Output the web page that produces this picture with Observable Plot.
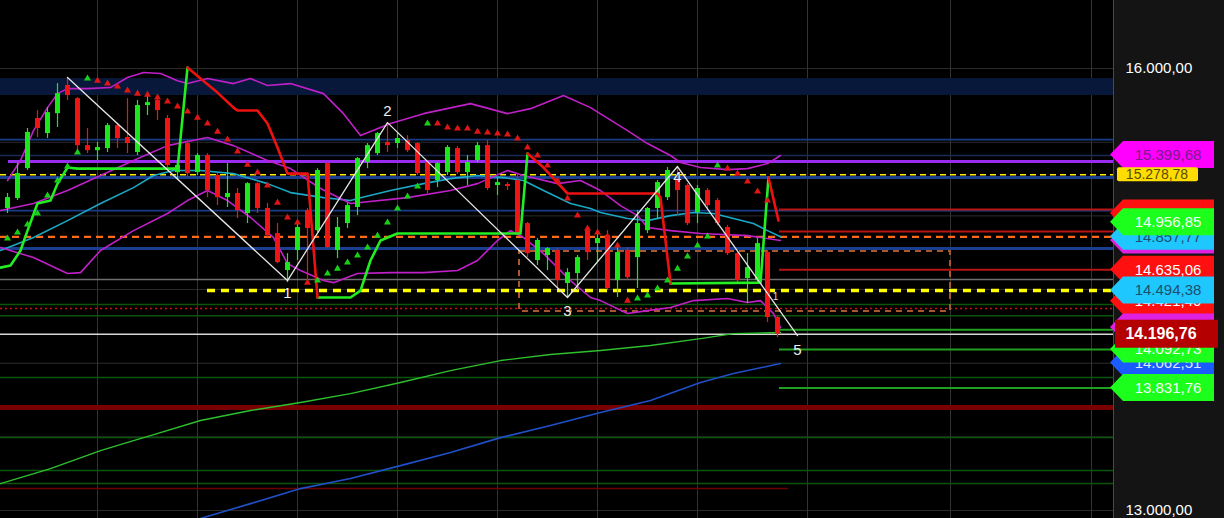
<!DOCTYPE html>
<html><head><meta charset="utf-8">
<script src="https://cdn.jsdelivr.net/npm/d3@7"></script>
<script src="https://cdn.jsdelivr.net/npm/@observablehq/plot@0.6"></script>
<style>html,body{margin:0;padding:0;background:#000;overflow:hidden}</style>
</head><body><div id="chart"></div>
<script>
// ---------- DATA ----------
const opens  = [15050,15118,15321,15661,15559,15694,15885,15796,15477,15443,15457,15613,15532,15430,15749,15783,15661,15294,15491,15294,15410,15274,15124,15152,15016,15219,15050,14880,14629,14765,15036,14900,15355,14765,14948,15057,15362,15423,15498,15491,15511,15491,15362,15240,15294,15457,15294,15376,15477,15206,15213,15240,14948,14697,14731,14765,14541,14609,14900,14812,14866,14561,14765,14717,14900,15050,15124,15240,15206,15023,15172,15104,14921,14744,14575,14561,14751,14310];
const highs  = [15152,15355,15593,15715,15735,15898,15939,15803,15593,15498,15627,15627,15796,15783,15830,15803,15681,15376,15511,15423,15423,15287,15355,15186,15226,15226,15084,14948,14744,14968,15050,15321,15362,14989,15084,15396,15491,15566,15633,15559,15545,15498,15376,15362,15477,15471,15410,15498,15511,15260,15226,15287,14955,14846,14785,14778,14642,14731,14921,14900,14900,14812,14785,15036,15057,15240,15328,15335,15219,15206,15186,15118,14934,14751,14744,14846,14765,14323];
const lows   = [15016,15104,15308,15532,15525,15600,15783,15423,15423,15376,15430,15457,15423,15410,15681,15647,15328,15240,15260,15274,15124,15070,15057,14982,14948,15016,14853,14676,14547,14697,14561,14887,14778,14710,14914,15002,15321,15410,15430,15457,15430,15274,15152,15192,15274,15281,15206,15362,15172,15138,15172,14866,14717,14663,14629,14514,14446,14493,14697,14683,14493,14446,14561,14507,14880,14982,15104,15002,14934,14948,15050,14934,14731,14547,14405,14547,14276,14174];
const closes = [15124,15287,15566,15593,15701,15830,15817,15477,15443,15464,15613,15525,15491,15749,15769,15715,15342,15342,15287,15410,15172,15124,15152,15036,15219,15050,14866,14683,14683,14921,14914,15308,14785,14921,15070,15389,15477,15559,15477,15525,15443,15287,15172,15355,15464,15294,15362,15477,15186,15226,15199,14880,14744,14833,14778,14561,14615,14717,14751,14846,14507,14751,14581,14948,15050,15226,15308,15172,14948,15186,15070,14948,14744,14561,14649,14812,14310,14196.76];

// Bollinger bands [bar index, price]
const bbUpper = [[0,15240],[1.3,15376],[2.6,15579],[4,15735],[5,15830],[6,15864],[8,15864],[10.3,15871],[12,15939],[13.6,15973],[15.3,15966],[17,15918],[18,15898],[20,15932],[22.6,15898],[24.3,15932],[26,15885],[28.3,15898],[31.6,15830],[33.6,15694],[35.3,15545],[38.3,15627],[41.6,15694],[46.3,15762],[50,15694],[52.3,15728],[55.6,15817],[58.3,15735],[62,15579],[64,15491],[66.3,15410],[67.3,15362],[69.3,15328],[72,15314],[74,15321],[76,15355],[77.3,15410]];
const bbMiddle = [[-0.7,15036],[2.6,15084],[6,15172],[9.3,15274],[12.6,15376],[16,15477],[20,15532],[22.6,15477],[26,15376],[28.3,15321],[31.3,15186],[34.3,15084],[40,15124],[44.3,15172],[47,15219],[50,15308],[51.6,15274],[55,15219],[57.3,15240],[59.3,15172],[61.3,15070],[63,15002],[64,14921],[66.3,14900],[69.3,14880],[74,14866],[77.3,14833]];
const bbLower = [[-0.7,14785],[2.6,14717],[6,14609],[7.3,14615],[9.3,14765],[12.6,14900],[16,15016],[18,15104],[20,15172],[22,15104],[24.3,14989],[26.6,14853],[28,14676],[29.3,14629],[31.6,14561],[32.6,14547],[35,14609],[38.3,14615],[41.6,14615],[45,14629],[47,14697],[49,14833],[50.3,14900],[51.6,14853],[53.6,14744],[56.3,14561],[58.3,14446],[59.3,14425],[62,14337],[64,14357],[66.3,14378],[68.6,14425],[72,14439],[74,14412],[75.3,14425],[76.6,14337],[77.3,14242]];
const maCyan = [[-0.7,14765],[2.6,14853],[6,14968],[9.3,15084],[12.6,15192],[14.6,15274],[16.6,15308],[19.3,15308],[22.6,15287],[26,15219],[28.3,15158],[31.6,15124],[34.3,15104],[35,15118],[38.3,15172],[41.6,15219],[44.3,15253],[47,15274],[49.6,15260],[51.6,15240],[53.6,15172],[56.3,15084],[58.3,15050],[59.3,15023],[62,14982],[64,14968],[66.3,15002],[68.6,15023],[70.6,15016],[72.6,14982],[74.6,14948],[76,14900],[77.3,14857.77]];
const maLongGreen = [[-0.7,13183],[4.3,13285],[9.3,13407],[12.6,13475],[14.3,13509],[19.3,13611],[24.3,13679],[29.3,13733],[34.3,13794],[39.3,13869],[44.3,13950],[49.3,14018],[54.3,14059],[59.3,14086],[64.3,14120],[69.3,14167],[72.6,14201],[77.3,14208]];
const maLongBlue = [[19.3,12946],[24.3,13047],[29.3,13149],[34.3,13217],[39.3,13305],[44.3,13394],[49.3,13495],[54.3,13577],[59.3,13665],[64.3,13747],[69.3,13869],[72.6,13930],[77.3,13998]];

// trailing stop line segments
const stopUp = [
  [[-0.7,14649],[0.3,14663],[1.3,14765],[2,14900],[3,15084],[4.3,15104],[5,15219],[6,15328],[7,15321],[17,15321],[18,16007]],
  [[31,14446],[34.3,14446],[35.3,14493],[36.3,14697],[37.3,14833],[39,14880],[51.3,14880],[52,15423]],
  [[66.3,14541],[75.3,14547],[76.1,15260]]
];
const stopDown = [
  [[18,16007],[19.3,15932],[21,15837],[22.6,15735],[23,15715],[25,15715],[26,15627],[27,15464],[28,15287],[30,15287],[31,14446]],
  [[52,15423],[53.6,15328],[56,15152],[65,15152],[65.3,15124],[66.3,14541]],
  [[76.1,15260],[77.1,14968]]
];

// parabolic SAR markers
const sarUp = [[0,14846],[1,14887],[2,14941],[3,15016],[4,15138],[5,15240],[6,15335],[7,15430],[8,15932],[31,14561],[32,14609],[33,14642],[34,14683],[35,14731],[36,14785],[37,14866],[38,14955],[39,15050],[40,15131],[41,15199],[42,15627],[63,14439],[64,14459],[65,14507],[66,14561],[67,14642],[68,14724],[69,14799],[70,14860],[71,15342]];
const sarDown = [[9,15918],[10,15898],[11,15878],[12,15851],[13,15830],[14,15823],[15,15803],[16,15776],[17,15742],[18,15708],[19,15667],[20,15627],[21,15572],[22,15518],[23,15437],[24,15348],[25,15294],[26,15206],[27,15090],[28,14989],[29,14955],[30,14547],[43,15627],[44,15600],[45,15593],[46,15593],[47,15572],[48,15566],[49,15559],[50,15552],[51,15525],[52,15464],[53,15410],[54,15342],[55,15240],[56,15118],[57,15002],[58,14914],[59,14887],[60,14860],[61,14799],[62,14425],[72,15321],[73,15287],[74,15233],[75,15165],[76,15104]];

// wave count
const waveIdx    = [6, 28, 38, 56, 67, 79];
const wavePrice  = [15939, 14561, 15633, 14446, 15335, 14188];
const waveLabels = ["", "1", "2", "3", "4", "5"];

// horizontal levels
const gridPrices = [13000,13500,14000,14500,15000,15500,16000];
const gridBars = [9, 19, 29, 39, 49, 59, 69, 80, 94.3, 108.4];
const zoneBand = [15932, 15817];
const blueThinLevels = [15518, 15036];
const blueFaintLevels = [15410];
const blueThickLevels = [15260, 14778];
const purpleLevel = [15369];
const yellowLevel = [15278.78];
const orangeLevel = [14857.77];
const grayLevel = [14568];
const pivotLevel = [14494.38];
const darkGreenLevels = [14398, 14323, 13903, 13495, 13271, 13183];
const dottedRedLevel = [14371];
const lastPriceLevel = [14196.76];
const darkRedLevel = [13699];
const darkRedThinLevel = [13149];
const projRedLevels = [15043, 14894, 14635.06];
const projGreenLevels = [14228, 14092.73, 13831.76];
const boxZone = {from: 51.2, to: 94.3, top: 14758, bottom: 14351};

// right-hand price tags (drawing order bottom → top)
const tagValues = [15399.68, 15278.78, 15043.12, 14833.40, 14857.77, 14956.85, 14635.06, 14421.40, 14494.38, 14242.10, 14062.51, 14092.73, 14196.76, 13831.76];
const tagFill   = ["#ff00ff","#ffdd00","#ff1010","#e020e0","#1ec8ff","#1cff1c","#ff1010","#ff1010","#1ec8ff","#e020e0","#1a5cff","#1cff1c","#b40000","#1cff1c"];
const tagInk    = ["#7a1a8e","#5a4a00","#ffffff","#ffffff","#1d4f6e","#f4fff4","#ffffff","#ffffff","#1d4f6e","#ffffff","#dfe6ff","#f4fff4","#ffffff","#f4fff4"];
const tagShift  = [-2, 0, 4, 0, 0, 0, 0, 0, 0, 0, 9, 0, 0, 0];
const tagKind   = ["arrow","small","arrow","arrow","arrow","arrow","arrow","arrow","arrow","arrow","arrow","arrow","last","arrow"];
const tagHidden = [false,false,true,true,false,false,false,false,false,true,false,false,false,false];

// ---------- BUILD ----------
const loc = d3.formatLocale({decimal: ",", thousands: ".", grouping: [3], currency: ["", ""]});
const fmt = loc.format(",.2f");
const candles = opens.map((o, i) => ({i, o, h: highs[i], l: lows[i], c: closes[i], up: closes[i] >= o}));
const X0 = -0.7, X1 = 110.6;
const GREEN = "#1be81b", RED = "#f01414";
const segs = (arr, kind) => arr.flatMap((s, k) => s.map(p => ({x: p[0], y: p[1], z: kind + k})));
const waves = waveIdx.map((x, k) => ({x, y: wavePrice[k], t: waveLabels[k]}));
const waveDy = [0, 13, -11, 14, 11, 15];

const hl = (vals, o) => Plot.ruleY(vals, o);

const plot = Plot.plot({
  width: 1224, height: 518,
  marginLeft: 0, marginTop: 0, marginBottom: 0, marginRight: 111,
  x: {domain: [X0, X1], axis: null},
  y: {domain: [12946, 16462], axis: "right", ticks: [13000, 16000], tickFormat: fmt, tickSize: 0, tickPadding: 12, label: null},
  style: {background: "#000", color: "#ffffff", fontFamily: "Liberation Sans, Arial, sans-serif", fontSize: "15px"},
  marks: [
    Plot.ruleY(gridPrices, {stroke: "#2c2c2c", strokeWidth: 1}),
    Plot.ruleX(gridBars, {stroke: "#333", strokeWidth: 1}),
    Plot.rect([zoneBand], {x1: X0, x2: X1, y1: d => d[0], y2: d => d[1], fill: "#08183a"}),
    hl(blueFaintLevels, {stroke: "#1b2b55", strokeWidth: 1.5}),
    hl(blueThinLevels, {stroke: "#183c85", strokeWidth: 1.8}),
    hl(blueThickLevels, {stroke: "#1a3f90", strokeWidth: 3}),
    hl(darkGreenLevels, {stroke: "#0c540c", strokeWidth: 1.5}),
    hl(darkRedLevel, {stroke: "#7a0000", strokeWidth: 5}),
    hl(darkRedThinLevel, {x1: X0, x2: 78.1, stroke: "#6a0000", strokeWidth: 1.5}),
    hl(grayLevel, {stroke: "#6e6e6e", strokeWidth: 1.5}),
    hl(dottedRedLevel, {stroke: "#d01010", strokeWidth: 1.5, strokeDasharray: "2,3"}),
    hl(orangeLevel, {stroke: "#ff6a1a", strokeWidth: 2.2, strokeDasharray: "7,5"}),
    hl(yellowLevel, {stroke: "#ffee00", strokeWidth: 1.5, strokeDasharray: "6,4"}),
    hl(purpleLevel, {x1: 0.1, x2: X1, stroke: "#9a2cf2", strokeWidth: 3}),
    hl(projRedLevels, {x1: 77.2, x2: X1, stroke: "#b81414", strokeWidth: 2}),
    hl(projGreenLevels, {x1: 77.2, x2: X1, stroke: "#1fa01f", strokeWidth: 2}),
    hl(lastPriceLevel, {stroke: "#d8d8d8", strokeWidth: 1.5}),
    Plot.rect([boxZone], {x1: "from", x2: "to", y1: "top", y2: "bottom", fill: "none", stroke: "#a8582e", strokeWidth: 2, strokeDasharray: "6,5"}),
    hl(pivotLevel, {x1: 20, x2: X1, stroke: "#ffff00", strokeWidth: 3.5, strokeDasharray: "8,6"}),
    Plot.line(maLongGreen, {x: d => d[0], y: d => d[1], stroke: "#2ec02e", strokeWidth: 1.4}),
    Plot.line(maLongBlue, {x: d => d[0], y: d => d[1], stroke: "#2050c8", strokeWidth: 1.6}),
    Plot.line(maCyan, {x: d => d[0], y: d => d[1], stroke: "#1aa8c4", strokeWidth: 1.6}),
    Plot.line(bbUpper, {x: d => d[0], y: d => d[1], stroke: "#c020c8", strokeWidth: 1.6}),
    Plot.line(bbMiddle, {x: d => d[0], y: d => d[1], stroke: "#c020c8", strokeWidth: 1.6}),
    Plot.line(bbLower, {x: d => d[0], y: d => d[1], stroke: "#c020c8", strokeWidth: 1.6}),
    Plot.ruleX(candles, {x: "i", y1: "l", y2: "h", stroke: d => d.up ? GREEN : RED, strokeWidth: 1.2}),
    Plot.ruleX(candles, {x: "i", y1: "o", y2: "c", stroke: d => d.up ? GREEN : RED, strokeWidth: 5}),
    Plot.line(segs(stopUp, "u"), {x: "x", y: "y", z: "z", stroke: "#22ee22", strokeWidth: 2.6}),
    Plot.line(segs(stopDown, "d"), {x: "x", y: "y", z: "z", stroke: "#ee1111", strokeWidth: 2.6}),
    Plot.dot(sarUp, {x: d => d[0], y: d => d[1], symbol: "triangle", r: 2.6, fill: "#19d019"}),
    Plot.dot(sarDown, {x: d => d[0], y: d => d[1], symbol: "triangle", r: 2.6, fill: "#e01515"}),
    Plot.line(waves, {x: "x", y: "y", stroke: "#e6e6e6", strokeWidth: 1.3}),
    ...waves.filter(w => w.t !== "").map((w, k) =>
      Plot.text([w], {x: "x", y: "y", text: "t", dy: waveDy[k + 1], fill: "#eeeeee", fontSize: 15})),
    Plot.text(["1"], {x: 76.8, y: 14453, text: d => d, fill: "#dddddd", fontSize: 10})
  ]
});
document.getElementById("chart").appendChild(plot);

const svg = d3.select(plot);
const ys = plot.scale("y");

// right panel background (under the axis text)
svg.insert("rect", ":first-child").attr("x", 1113).attr("y", 0).attr("width", 111).attr("height", 518).attr("fill", "#141414");
svg.insert("rect", ":first-child").attr("x", 0).attr("y", 0).attr("width", 1224).attr("height", 518).attr("fill", "#000");
svg.append("line").attr("x1", 1113.5).attr("x2", 1113.5).attr("y1", 0).attr("y2", 518).attr("stroke", "#4a4a4a");

// price tags
const g = svg.append("g").attr("font-family", "Liberation Sans, Arial, sans-serif");
tagValues.forEach((v, k) => {
  const cy = ys.apply(v) + tagShift[k];
  let tx = 1168, fs = 15, fw = "normal";
  if (tagKind[k] === "small") {
    g.append("rect").attr("x", 1117).attr("y", cy - 7).attr("width", 81).attr("height", 14).attr("rx", 2).attr("fill", tagFill[k]);
    tx = 1157; fs = 14;
  } else if (tagKind[k] === "last") {
    g.append("rect").attr("x", 1115).attr("y", cy - 14).attr("width", 103).attr("height", 28).attr("fill", tagFill[k]);
    tx = 1161; fs = 16; fw = "bold";
  } else {
    const h = 27;
    g.append("path").attr("d", `M1110,${cy} L1123,${cy - h/2} L1214,${cy - h/2} L1214,${cy + h/2} L1123,${cy + h/2} Z`).attr("fill", tagFill[k]);
  }
  if (!tagHidden[k]) {
    g.append("text").attr("x", tx).attr("y", cy).attr("dy", "0.36em").attr("text-anchor", "middle")
      .attr("font-size", fs).attr("font-weight", fw).attr("fill", tagInk[k]).text(fmt(v));
  }
});
</script></body></html>
